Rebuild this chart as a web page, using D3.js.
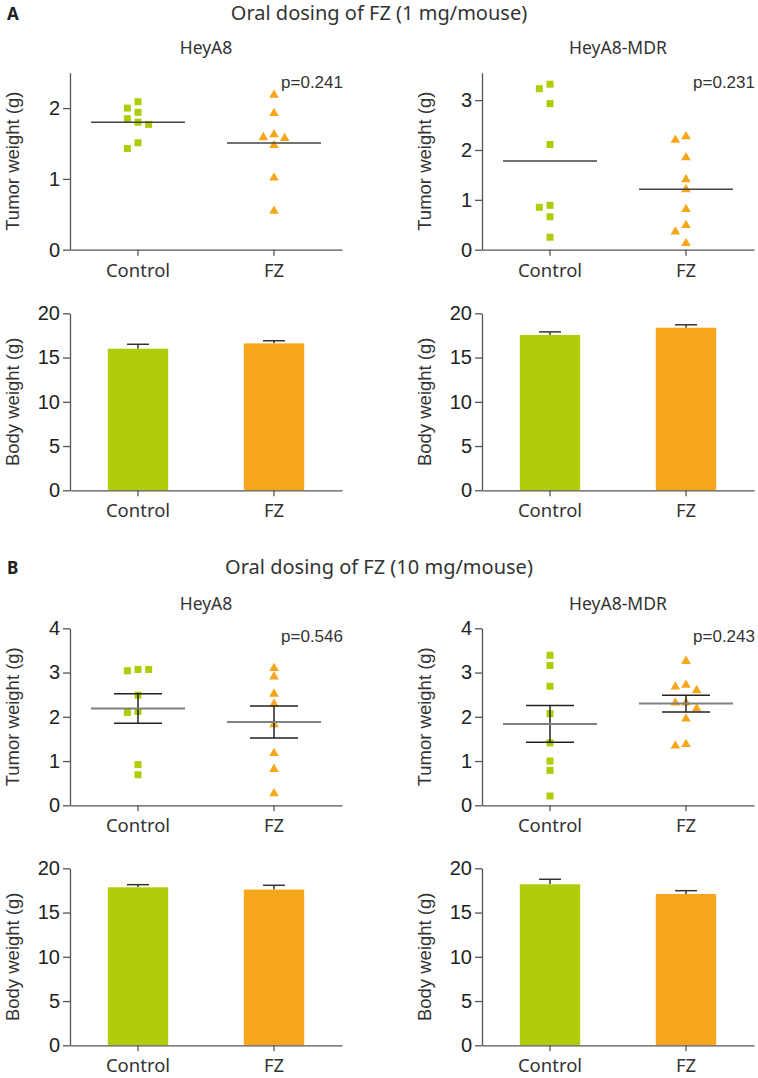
<!DOCTYPE html>
<html>
<head>
<meta charset="utf-8">
<script src="https://cdn.jsdelivr.net/npm/d3@7"></script>
<style>
  body { margin: 0; background: #fff; }
  svg { display: block; }
</style>
</head>
<body>
<div id="fig"></div>
<script>
// ---- data ----
const groups = ["Control", "FZ"];

// A: oral dosing 1 mg/mouse, tumor weight (g)
const tumorA_HeyA8_ctrl = [2.09, 2.00, 1.94, 1.85, 1.80, 1.77, 1.51, 1.43];
const tumorA_HeyA8_fz   = [2.20, 1.94, 1.64, 1.60, 1.59, 1.49, 1.03, 0.56];
const tumorA_MDR_ctrl   = [3.32, 3.23, 2.93, 2.11, 0.89, 0.85, 0.66, 0.25];
const tumorA_MDR_fz     = [2.29, 2.22, 1.87, 1.43, 1.23, 0.83, 0.51, 0.38, 0.15];

// B: oral dosing 10 mg/mouse, tumor weight (g)
const tumorB_HeyA8_ctrl = [3.07, 3.04, 3.07, 2.49, 2.12, 2.10, 0.92, 0.69];
const tumorB_HeyA8_fz   = [3.12, 2.93, 2.54, 2.31, 1.85, 1.20, 0.84, 0.29];
const tumorB_MDR_ctrl   = [3.39, 3.16, 2.69, 2.07, 1.41, 1.00, 0.79, 0.21];
const tumorB_MDR_fz     = [3.28, 2.74, 2.70, 2.62, 2.34, 2.34, 2.21, 1.98, 1.40, 1.37];

// body weight (g): mean and SEM per group
const bodyA_HeyA8 = [16.0, 16.6],  bodyA_HeyA8_sem = [0.5, 0.3];
const bodyA_MDR   = [17.55, 18.37], bodyA_MDR_sem  = [0.35, 0.33];
const bodyB_HeyA8 = [17.85, 17.6], bodyB_HeyA8_sem = [0.3, 0.48];
const bodyB_MDR   = [18.19, 17.1], bodyB_MDR_sem   = [0.57, 0.37];

const pValues = ["p=0.241", "p=0.231", "p=0.546", "p=0.243"];
const tumorMax = [2.5, 3.55, 4, 4];
const tumorTicks = [[0, 1, 2], [0, 1, 2, 3], [0, 1, 2, 3, 4], [0, 1, 2, 3, 4]];
const bodyTicks = [0, 5, 10, 15, 20];
const sectionTitles = ["Oral dosing of FZ (1 mg/mouse)", "Oral dosing of FZ (10 mg/mouse)"];
const sectionLetters = ["A", "B"];
const cellLines = ["HeyA8", "HeyA8-MDR"];

// ---- layout ----
const W = 758, H = 1078;
const colX = [70, 482];
const plotW = 272, plotH = 177;
const rowTop = [72.7, 313.3, 628.3, 868.3];
const groupColor = { "Control": "#b0cb07", "FZ": "#f6a61a" };
const numFont = "'Liberation Sans', Arial, sans-serif";
const txtFont = "'Noto Sans', 'Open Sans', sans-serif";
const axisColor = "#555";

const svg = d3.select("#fig").append("svg").attr("width", W).attr("height", H);

// headings
[0, 1].forEach(s => {
  const base = s === 0 ? 19.5 : 573.5;
  svg.append("text").attr("x", 7).attr("y", base)
    .attr("font-family", txtFont).attr("font-weight", "bold").attr("font-size", 17)
    .attr("fill", "#222").text(sectionLetters[s]);
  svg.append("text").attr("x", 379).attr("y", base).attr("text-anchor", "middle")
    .attr("font-family", txtFont).attr("font-size", 20).attr("fill", "#333")
    .text(sectionTitles[s]);
  cellLines.forEach((c, i) => {
    svg.append("text").attr("x", colX[i] + plotW * 0.5).attr("y", base + (s === 0 ? 34.5 : 36.5))
      .attr("text-anchor", "middle").attr("font-family", txtFont).attr("font-size", 17.5)
      .attr("fill", "#333").text(c);
  });
});

function xScaleFor(col) {
  return d3.scaleBand().domain(groups)
    .range([colX[col], colX[col] + plotW])
    .paddingInner(0.556).paddingOuter(0.278);
}

function drawAxes(g, x, y, ticks, label, col) {
  const yAx = g.append("g").attr("transform", `translate(${colX[col]},0)`)
    .call(d3.axisLeft(y).tickValues(ticks).tickFormat(d3.format("d"))
      .tickSize(7).tickPadding(3).tickSizeOuter(0));
  const xAx = g.append("g").attr("transform", `translate(0,${y.range()[0]})`)
    .call(d3.axisBottom(x).tickSize(6).tickPadding(8).tickSizeOuter(0));
  [yAx, xAx].forEach(a => {
    a.select(".domain").attr("stroke", axisColor).attr("stroke-width", 1.3);
    a.selectAll(".tick line").attr("stroke", axisColor).attr("stroke-width", 1.3);
  });
  yAx.selectAll(".tick text").attr("font-family", numFont).attr("font-size", 20).attr("fill", "#222");
  xAx.selectAll(".tick text").attr("font-family", txtFont).attr("font-size", 18.5).attr("fill", "#333")
    .attr("dy", "0.71em");
  const yMid = (y.range()[0] + y.range()[1]) / 2;
  g.append("text")
    .attr("transform", `translate(${colX[col] - 51},${yMid}) rotate(-90)`)
    .attr("text-anchor", "middle").attr("font-family", numFont).attr("font-size", 18.5)
    .attr("fill", "#333").text(label);
}

// simple bee-swarm offsets so close values sit side by side
function swarm(vals, y, step, minDist) {
  const placed = [];
  const out = new Array(vals.length);
  vals.forEach((v, i) => {
    const py = y(v);
    for (let k = 0; k < 30; k++) {
      const dx = k === 0 ? 0 : (k % 2 ? -1 : 1) * Math.ceil(k / 2) * step;
      const free = placed.every(p => Math.abs(p.x - dx) >= minDist || Math.abs(p.y - py) >= minDist);
      if (free) { placed.push({ x: dx, y: py }); out[i] = dx; break; }
    }
  });
  return out;
}

function sem(vals) { return d3.deviation(vals) / Math.sqrt(vals.length); }

function scatterPanel(row, col, ctrl, fz, idx, withSem) {
  const g = svg.append("g");
  const x = xScaleFor(col);
  const y = d3.scaleLinear().domain([0, tumorMax[idx]]).range([rowTop[row] + plotH, rowTop[row]]);
  drawAxes(g, x, y, tumorTicks[idx], "Tumor weight (g)", col);

  const sets = [{ grp: "Control", vals: ctrl }, { grp: "FZ", vals: fz }];
  sets.forEach(set => {
    const cx = x(set.grp) + x.bandwidth() / 2;
    const offs = swarm(set.vals, y, 5.33, 8);
    const shape = set.grp === "Control" ? d3.symbolSquare : d3.symbolTriangle;
    const size = set.grp === "Control" ? 49 : 40;
    g.append("g").selectAll("path").data(set.vals).join("path")
      .attr("d", d3.symbol().type(shape).size(size))
      .attr("transform", (d, i) => `translate(${cx + offs[i]},${y(d) + (set.grp === "FZ" ? 1 : 0)})`)
      .attr("fill", groupColor[set.grp]);

    const m = d3.mean(set.vals);
    if (withSem) {
      const s = sem(set.vals);
      const eb = g.append("g").attr("stroke", "#222").attr("stroke-width", 1.5);
      eb.append("line").attr("x1", cx).attr("x2", cx).attr("y1", y(m + s)).attr("y2", y(m - s));
      [m + s, m - s].forEach(v => eb.append("line")
        .attr("x1", cx - 24).attr("x2", cx + 24).attr("y1", y(v)).attr("y2", y(v)));
    }
    g.append("line").attr("x1", cx - 47).attr("x2", cx + 47).attr("y1", y(m)).attr("y2", y(m))
      .attr("stroke", withSem ? "#808080" : "#444").attr("stroke-width", withSem ? 2 : 1.5);
  });

  g.append("text").attr("x", colX[col] + plotW + 1).attr("y", rowTop[row] + (row === 0 ? 15.5 : 14))
    .attr("text-anchor", "end").attr("font-family", numFont).attr("font-size", 17)
    .attr("fill", "#333").text(pValues[idx]);
}

function barPanel(row, col, means, sems) {
  const g = svg.append("g");
  const x = xScaleFor(col);
  const y = d3.scaleLinear().domain([0, 20]).range([rowTop[row] + plotH, rowTop[row]]);

  const data = groups.map((grp, i) => ({ grp, m: means[i], s: sems[i] }));
  g.selectAll("line.err").data(data).join("line").attr("class", "err")
    .attr("x1", d => x(d.grp) + x.bandwidth() / 2).attr("x2", d => x(d.grp) + x.bandwidth() / 2)
    .attr("y1", d => y(d.m)).attr("y2", d => y(d.m + d.s))
    .attr("stroke", "#333").attr("stroke-width", 1.5);
  g.selectAll("line.cap").data(data).join("line").attr("class", "cap")
    .attr("x1", d => x(d.grp) + x.bandwidth() / 2 - 11).attr("x2", d => x(d.grp) + x.bandwidth() / 2 + 11)
    .attr("y1", d => y(d.m + d.s)).attr("y2", d => y(d.m + d.s))
    .attr("stroke", "#333").attr("stroke-width", 1.5);
  g.selectAll("rect").data(data).join("rect")
    .attr("x", d => x(d.grp)).attr("width", x.bandwidth())
    .attr("y", d => y(d.m)).attr("height", d => y(0) - y(d.m))
    .attr("fill", d => groupColor[d.grp]);

  drawAxes(g, x, y, bodyTicks, "Body weight (g)", col);
}

scatterPanel(0, 0, tumorA_HeyA8_ctrl, tumorA_HeyA8_fz, 0, false);
scatterPanel(0, 1, tumorA_MDR_ctrl, tumorA_MDR_fz, 1, false);
barPanel(1, 0, bodyA_HeyA8, bodyA_HeyA8_sem);
barPanel(1, 1, bodyA_MDR, bodyA_MDR_sem);
scatterPanel(2, 0, tumorB_HeyA8_ctrl, tumorB_HeyA8_fz, 2, true);
scatterPanel(2, 1, tumorB_MDR_ctrl, tumorB_MDR_fz, 3, true);
barPanel(3, 0, bodyB_HeyA8, bodyB_HeyA8_sem);
barPanel(3, 1, bodyB_MDR, bodyB_MDR_sem);
</script>
</body>
</html>
